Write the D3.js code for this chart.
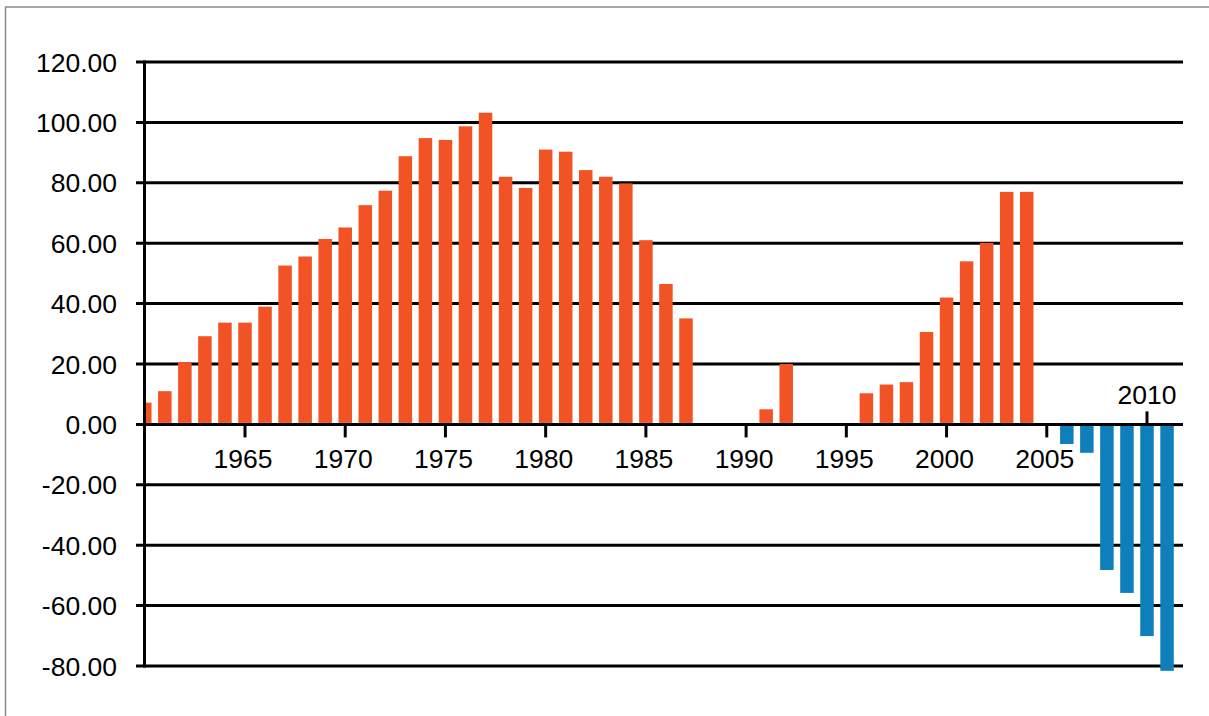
<!DOCTYPE html>
<html>
<head>
<meta charset="utf-8">
<script src="https://cdn.jsdelivr.net/npm/d3@7/dist/d3.min.js"></script>
<style>
  html, body { margin: 0; padding: 0; background: #fff; }
  svg { display: block; }
  text { font-family: "Liberation Sans", Arial, sans-serif; fill: #000; }
</style>
</head>
<body>
<svg id="chart" width="1209" height="716"></svg>
<script>
// ---- data ----
const years = [1960,1961,1962,1963,1964,1965,1966,1967,1968,1969,
               1970,1971,1972,1973,1974,1975,1976,1977,1978,1979,
               1980,1981,1982,1983,1984,1985,1986,1987,1988,1989,
               1990,1991,1992,1993,1994,1995,1996,1997,1998,1999,
               2000,2001,2002,2003,2004,2005,2006,2007,2008,2009,
               2010,2011];
const values = [7.2,11.0,20.6,29.2,33.7,33.7,39.0,52.6,55.6,61.4,
                65.2,72.6,77.4,88.8,94.8,94.2,98.7,103.2,82.0,78.3,
                91.0,90.3,84.2,82.0,79.8,61.0,46.5,35.1,0,0,
                0,5.0,20.0,0,0,0,10.3,13.2,14.0,30.6,
                42.0,54.0,60.1,77.0,77.0,0,-6.5,-9.4,-48.2,-55.8,
                -70.1,-81.6];
const yTicks = [120,100,80,60,40,20,0,-20,-40,-60,-80];
const xTickYears = [1965,1970,1975,1980,1985,1990,1995,2000,2005,2010];

// ---- setup ----
const svg = d3.select("#chart");
const posColor = "#F15325", negColor = "#0E7FBB";

const y = d3.scaleLinear().domain([-80, 120]).range([666, 62]);
const x = d3.scaleLinear().domain([1965, 2010]).range([245, 1147]);
const axisX = 144.5, gridLeft = 136, gridRight = 1183;
const barW = 13.5;

// frame
svg.append("path").attr("d", "M5.5,716 L5.5,7 L1209,7")
  .attr("fill", "none").attr("stroke", "#8a8a8a").attr("stroke-width", 1.5);

// clip for bars (left of the y axis)
svg.append("clipPath").attr("id", "plotclip")
  .append("rect").attr("x", axisX).attr("y", 0).attr("width", gridRight - axisX).attr("height", 716);

// gridlines
svg.append("g").selectAll("line").data(yTicks).join("line")
  .attr("x1", gridLeft).attr("x2", gridRight)
  .attr("y1", d => y(d)).attr("y2", d => y(d))
  .attr("stroke", "#000").attr("stroke-width", 3);

// bars
svg.append("g").attr("clip-path", "url(#plotclip)")
  .selectAll("rect").data(years.map((yr, i) => ({yr, v: values[i]})).filter(d => d.v !== 0))
  .join("rect")
  .attr("x", d => x(d.yr) - barW / 2)
  .attr("width", barW)
  .attr("y", d => d.v >= 0 ? y(d.v) : y(0) + 1.5)
  .attr("height", d => d.v >= 0 ? y(0) - 1.5 - y(d.v) : y(d.v) - y(0) - 1.5)
  .attr("fill", d => d.v >= 0 ? posColor : negColor);

// redraw the zero line on top
svg.append("line").attr("x1", gridLeft).attr("x2", gridRight)
  .attr("y1", y(0)).attr("y2", y(0)).attr("stroke", "#000").attr("stroke-width", 3);

// y axis line
svg.append("line").attr("x1", axisX).attr("x2", axisX)
  .attr("y1", y(120) - 1.5).attr("y2", y(-80) + 1.5)
  .attr("stroke", "#000").attr("stroke-width", 3);

// y labels
const fmt = d => d3.format(".2f")(d).replace("\u2212", "-");
svg.append("g").selectAll("text").data(yTicks).join("text")
  .attr("x", 117).attr("y", d => y(d) + 9.5)
  .attr("text-anchor", "end")
  .attr("font-size", 26.5)
  .text(fmt);

// x ticks and labels
const valOf = yr => values[years.indexOf(yr)];
const xg = svg.append("g");
xTickYears.forEach(yr => {
  const up = valOf(yr) < 0;
  xg.append("line")
    .attr("x1", x(yr)).attr("x2", x(yr))
    .attr("y1", y(0)).attr("y2", up ? y(0) - 13 : y(0) + 13)
    .attr("stroke", "#000").attr("stroke-width", 3);
  xg.append("text")
    .attr("x", x(yr) - (up ? 0 : 2))
    .attr("y", up ? y(0) - 20 : y(0) + 44)
    .attr("text-anchor", "middle")
    .attr("font-size", 26.5)
    .text(yr);
});
</script>
</body>
</html>
